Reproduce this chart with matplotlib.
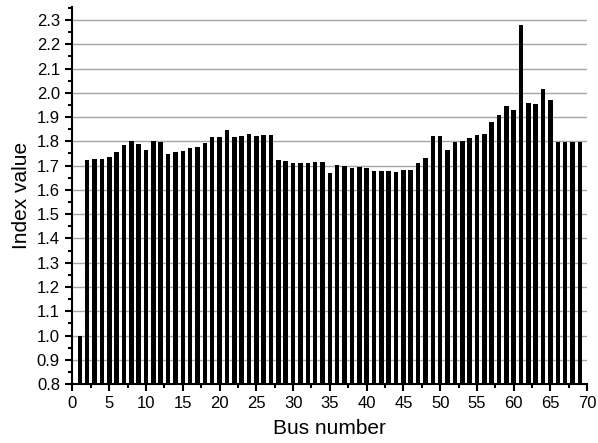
import numpy as np
import matplotlib
matplotlib.use("Agg")
import matplotlib.pyplot as plt
from matplotlib.ticker import MultipleLocator

# -----------------------
# Data
# -----------------------

bus = np.arange(1, 70)
index_value = [
    1.000, 1.725, 1.729, 1.729, 1.737, 1.755, 1.785, 1.800, 1.789, 1.764,
    1.800, 1.797, 1.748, 1.756, 1.760, 1.771, 1.775, 1.793, 1.816, 1.816,
    1.848, 1.819, 1.822, 1.830, 1.822, 1.826, 1.826, 1.722, 1.718, 1.711,
    1.711, 1.711, 1.715, 1.715, 1.670, 1.704, 1.700, 1.689, 1.696, 1.692,
    1.677, 1.677, 1.677, 1.673, 1.683, 1.683, 1.711, 1.733, 1.822, 1.822,
    1.763, 1.799, 1.803, 1.815, 1.826, 1.830, 1.881, 1.908, 1.945, 1.931,
    2.278, 1.959, 1.953, 2.016, 1.972, 1.796, 1.796, 1.799, 1.799,
]

# -----------------------
# Plot
# -----------------------

plt.rcParams['font.family'] = ['Liberation Sans', 'DejaVu Sans']

fig = plt.figure(figsize=(5.98, 4.43), dpi=100)
ax = fig.add_axes([0.120, 0.133, 0.862, 0.852])

ax.grid(axis="y", color="#a6a6a6", linewidth=1.0)
ax.set_axisbelow(True)
ax.bar(bus, np.array(index_value) - 0.8, bottom=0.8, width=0.62, color="black")

ax.set_xlim(-0.1, 70)
ax.set_ylim(0.8, 2.355)
ax.xaxis.set_major_locator(MultipleLocator(5))
ax.xaxis.set_minor_locator(MultipleLocator(2.5))
ax.yaxis.set_major_locator(MultipleLocator(0.1))
ax.yaxis.set_minor_locator(MultipleLocator(0.05))
ax.yaxis.set_major_formatter(plt.FormatStrFormatter("%.1f"))

for s in ["top", "right"]:
    ax.spines[s].set_visible(False)
for s in ["left", "bottom"]:
    ax.spines[s].set_linewidth(1.5)

ax.tick_params(which="major", length=5, width=1.5, labelsize=12, direction="out")
ax.tick_params(which="minor", length=3, width=1.5, direction="out")

ax.set_xlabel("Bus number", fontsize=15, labelpad=6)
ax.set_ylabel("Index value", fontsize=15, labelpad=4)

fig.savefig("out.png", dpi=100)
